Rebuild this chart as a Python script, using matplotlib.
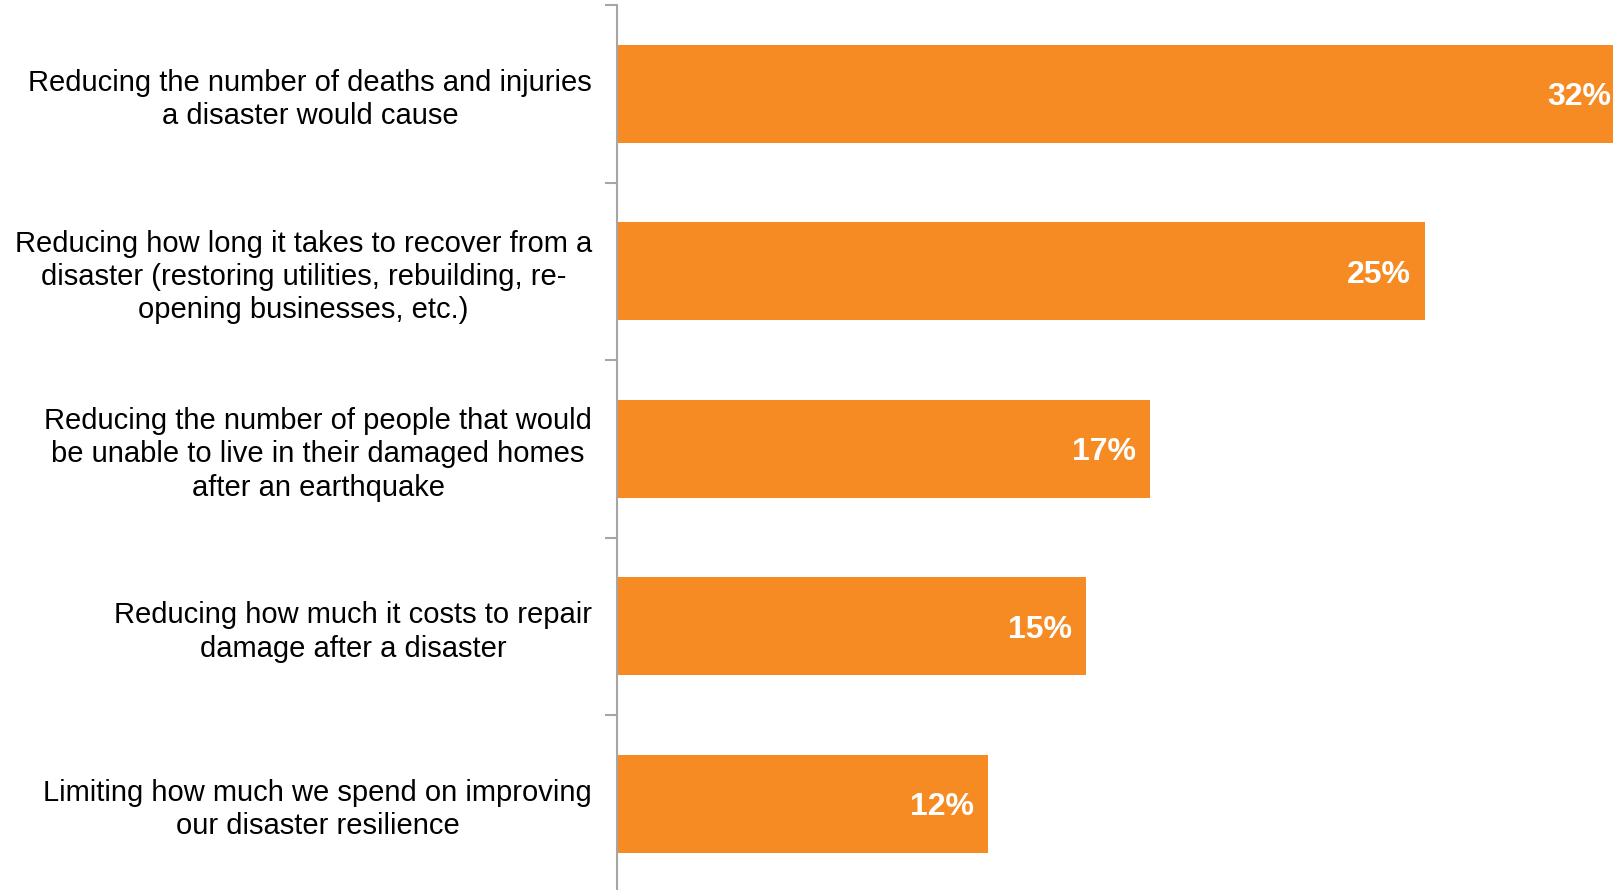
import matplotlib
matplotlib.use("Agg")
import matplotlib.pyplot as plt
import numpy as np

plt.rcParams["font.family"] = ["Liberation Sans", "DejaVu Sans"]

categories = [
    "Reducing the number of deaths and injuries\na disaster would cause",
    "Reducing how long it takes to recover from a\ndisaster (restoring utilities, rebuilding, re-\nopening businesses, etc.)",
    "Reducing the number of people that would\nbe unable to live in their damaged homes\nafter an earthquake",
    "Reducing how much it costs to repair\ndamage after a disaster",
    "Limiting how much we spend on improving\nour disaster resilience",
]
values = [31.8, 25.49, 16.8, 14.8, 11.7]

BAR_COLOR = "#F68B24"
AXIS_GRAY = "#A6A6A6"

W, H = 1613, 890
fig = plt.figure(figsize=(W / 100, H / 100), dpi=100)
# axes: left edge at the gray axis line, top at first tick, bottom just past the figure
left, top, bottom = 617, 5, 892.5
ax = fig.add_axes([left / W, 1 - bottom / H, 1 - left / W, (bottom - top) / H])

y = np.arange(len(categories))
ax.barh(y, values, height=0.55, color=BAR_COLOR)
ax.set_ylim(len(categories) - 0.5, -0.5)
ax.set_xlim(0, (W - left) / 31.7)

for yi, v in zip(y, values):
    ax.annotate(f"{round(v)}%", xy=(v, yi), xytext=(-10, -2.5), textcoords="offset points",
                ha="right", va="center", color="white", fontsize=23, fontweight="bold",
                annotation_clip=False)

ax.set_yticks(y)
ax.set_yticklabels(categories, fontsize=21, ha="right", multialignment="center",
                   linespacing=1.25)
ax.set_yticks(np.arange(-0.5, len(categories) + 0.5, 1), minor=True)
ax.tick_params(axis="y", which="major", length=0, pad=18)
ax.tick_params(axis="y", which="minor", length=9, width=1.5, color=AXIS_GRAY, direction="out")
ax.set_xticks([])

for s in ["top", "right", "bottom"]:
    ax.spines[s].set_visible(False)
ax.spines["left"].set_color(AXIS_GRAY)
ax.spines["left"].set_linewidth(1.5)

fig.savefig("out.png", dpi=100, facecolor="white")
